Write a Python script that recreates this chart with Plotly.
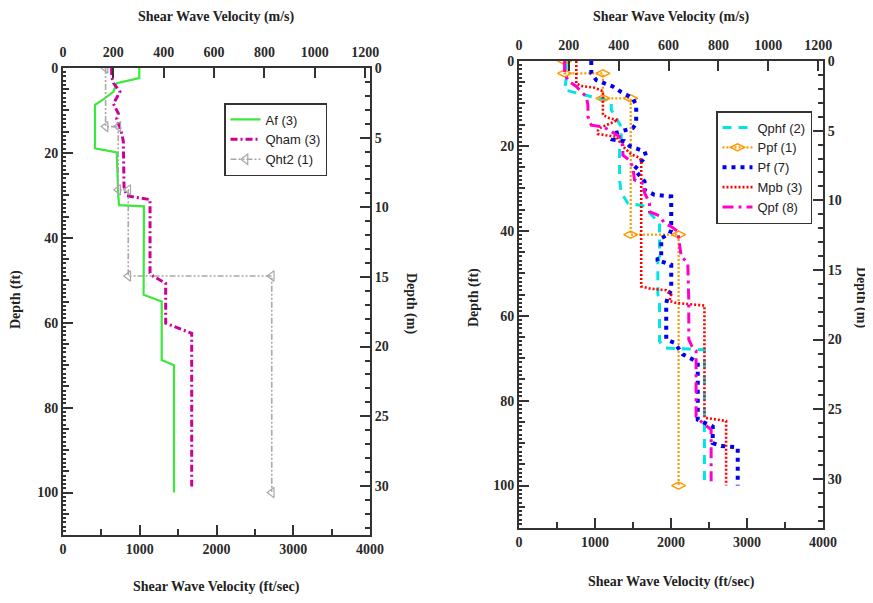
import plotly.graph_objects as go

W, H = 873, 603
OFF = 8          # default page margin of the html body
PW, PH = W - OFF, H - OFF

# ---------------- data (velocity in ft/sec, depth in ft) ----------------
af_v = [994, 994, 700, 656, 525, 417, 417, 525, 700, 720, 730, 1055, 1050, 1286, 1286, 1446, 1446]
af_d = [0, 2.4, 3.6, 5.6, 7.4, 8.7, 18.9, 19.3, 19.9, 29.9, 32.3, 32.6, 53.4, 55, 68.8, 70, 100]

qham_v = [634, 634, 660, 742, 700, 656, 721, 700, 765, 786, 795, 830, 1134, 1134, 1180, 1338, 1338, 1524, 1677, 1677]
qham_d = [0, 2.2, 3.6, 5.6, 7, 8.4, 10.7, 12, 15.4, 17.3, 28, 30.1, 31, 48.3, 49.1, 50.7, 60.1, 61.5, 62.5, 98.6]

qht2_v = [555, 555, 720, 720, 850, 850, 2720, 2720]
qht2_d = [0, 13.8, 13.8, 28.7, 28.7, 49, 49, 100]

qphf_v = [622, 622, 600, 775, 995, 1214, 1214, 1280, 1345, 1345, 1323, 1323, 1345, 1432, 1629, 1849, 1849, 1827, 1827, 1849, 1849, 1915, 2440, 2440]
qphf_d = [0, 4.1, 6.8, 7.6, 8.6, 9.4, 11.5, 13.5, 15.5, 19, 20, 28, 31, 33.5, 34.1, 38.2, 46, 47, 55, 56, 66, 67.6, 68, 100]

ppf_v = [600, 600, 1104, 1104, 1470, 1470, 2100, 2100]
ppf_d = [0, 2.9, 2.9, 8.8, 8.8, 40.9, 40.9, 100]

pf_v = [951, 951, 1017, 1235, 1345, 1498, 1542, 1542, 1498, 1280, 1235, 1389, 1455, 1652, 1674, 1564, 1520,
        1564, 1652, 1652, 1783, 2003, 2003, 1980, 1871, 1871, 1805, 1937, 2003, 2003, 1958, 1937, 1937, 2046,
        2155, 2286, 2352, 2352, 2440, 2549, 2549, 2660, 2878, 2878]
pf_d = [0, 2.9, 4.5, 6, 7.3, 8.8, 10.4, 14.7, 15.8, 16.9, 18.5, 18.9, 20, 21.3, 22.4, 24.5, 25.5,
        26.5, 28.4, 30.4, 31.5, 31.9, 39.8, 40.8, 41.7, 46.4, 46.8, 47.6, 48, 53.9, 55.5, 57.1, 65.6, 66.4,
        69.1, 70.3, 71, 84.5, 85.3, 86.1, 90, 90.7, 91, 100]

mpb_v = [754, 754, 820, 995, 1104, 1104, 1192, 1301, 1214, 1083, 1039, 1039, 1148, 1280, 1323, 1389, 1477,
         1586, 1608, 1608, 1717, 1937, 2003, 1980, 2068, 2440, 2440, 2725, 2725]
mpb_d = [0, 5.3, 5.9, 6.3, 7.1, 12.7, 13.5, 13.9, 14.6, 15.6, 16.4, 17.2, 17.5, 17.8, 19, 20.5, 22,
         22.8, 23.5, 53.1, 53.6, 54, 55, 56.5, 57, 57.6, 84, 84.8, 100]

qpf_v = [600, 600, 644, 754, 885, 907, 907, 951, 1104, 1148, 1323, 1367, 1367, 1455, 1498, 1520, 1652, 1652,
         1717, 1717, 1849, 1915, 2003, 2090, 2134, 2221, 2234, 2234, 2286, 2330, 2330, 2418, 2528, 2528]
qpf_d = [0, 2.7, 4.6, 6, 8.4, 10.4, 13.1, 15.1, 15.5, 15.9, 17.8, 19.8, 22.2, 23.4, 25, 28, 29, 31,
         33.5, 35.5, 36.5, 38.2, 39, 40.2, 46, 47.6, 56.6, 65.6, 67.6, 68.3, 83.7, 85.3, 86.8, 99]

ms_ticks = [0, 200, 400, 600, 800, 1000, 1200]
fts_ticks = [0, 1000, 2000, 3000, 4000]
ft_ticks = [0, 20, 40, 60, 80, 100]
m_ticks = [0, 5, 10, 15, 20, 25, 30]

FT_MAX = 4000
D_MAX = 110
FT2M = 0.3048

# ---------------- layout geometry (window pixels) ----------------
def px_x(p):
    return (p - OFF) / PW

def px_y(p):
    return 1 - (p - OFF) / PH

L_X = (63, 370)
L_Y = (68, 535)
R_X = (519, 823)
R_Y = (61, 528)

AX = "#333333"
SERIF = "Liberation Serif"
SANS = "Liberation Sans"
tickfont = dict(family=SERIF, size=14, color="#2a2a2a", weight="bold")

fig = go.Figure()

def add(v, d, name, color, dash, width, xa, ya, legend, marker=None):
    kw = dict(mode="lines")
    if marker:
        kw["mode"] = "lines+markers"
        kw["marker"] = marker
    fig.add_trace(go.Scatter(x=v, y=d, name=name, xaxis=xa, yaxis=ya, legend=legend,
                             line=dict(color=color, dash=dash, width=width), **kw))

def dummy(xa, ya):
    fig.add_trace(go.Scatter(x=[0], y=[0], xaxis=xa, yaxis=ya, mode="markers",
                             marker=dict(opacity=0, size=1), showlegend=False, hoverinfo="skip"))

# left panel
add(af_v, af_d, "Af (3)", "#3ce83c", "solid", 2.2, "x", "y", "legend")
add(qham_v, qham_d, "Qham (3)", "#cc0099", "7px,3px,2px,3px", 3, "x", "y", "legend")
add(qht2_v, qht2_d, "Qht2 (1)", "#a8a8a8", "6px,2px,2px,2px,2px,2px", 1.6, "x", "y", "legend",
    marker=dict(symbol="triangle-left-open", size=9, color="#a8a8a8", line=dict(width=1.2)))

# right panel
add(qphf_v, qphf_d, "Qphf (2)", "#00e5e5", "9px,7px", 3, "x3", "y4", "legend2")
add(ppf_v, ppf_d, "Ppf (1)", "#ff9900", "2px,2px", 2.2, "x3", "y4", "legend2",
    marker=dict(symbol="diamond-wide-open", size=10, color="#ff9900", line=dict(width=1.5)))
add(pf_v, pf_d, "Pf (7)", "#0000ee", "4px,5px", 4, "x3", "y4", "legend2")
add(mpb_v, mpb_d, "Mpb (3)", "#ff0000", "2px,2px", 2.6, "x3", "y4", "legend2")
add(qpf_v, qpf_d, "Qpf (8)", "#ff00cc", "11px,5px,3px,5px", 3, "x3", "y4", "legend2")

for xa, ya in [("x2", "y"), ("x", "y2"), ("x", "y3"), ("x4", "y4"), ("x3", "y5"), ("x3", "y6")]:
    dummy(xa, ya)

def axes(xb, xt, yl, yr, y5, xdom, ydom, xname, yname):
    base = dict(showgrid=False, zeroline=False, linecolor=AX, linewidth=2, tickcolor=AX,
                tickwidth=2, ticks="inside", tickfont=tickfont, automargin=False)
    fig.update_layout(**{
        xb: dict(base, domain=[px_x(xdom[0]), px_x(xdom[1])], range=[0, FT_MAX], anchor=yname,
                 side="bottom", showline=True, tickvals=fts_ticks, ticklen=10,
                 minor=dict(dtick=500, ticklen=6, tickcolor=AX, tickwidth=2, ticks="inside")),
        xt: dict(base, overlaying=xname, anchor=yname, side="top", range=[0, FT_MAX * FT2M],
                 showline=True, tickvals=ms_ticks, ticklen=10, ticklabelstandoff=3),
        yl: dict(base, domain=[px_y(ydom[1]), px_y(ydom[0])], range=[D_MAX, 0], anchor=xname,
                 side="left", showline=True, tickvals=ft_ticks, ticklen=10, tickwidth=2,
                 minor=dict(dtick=1, ticklen=3, tickcolor=AX, tickwidth=1.5, ticks="inside")),
        yr: dict(base, overlaying=yname, anchor=xname, side="right", range=[D_MAX * FT2M, 0],
                 showline=True, tickvals=m_ticks, ticklen=10,
                 minor=dict(dtick=1, ticklen=5, tickcolor=AX, tickwidth=1.5, ticks="inside")),
        y5: dict(base, overlaying=yname, anchor=xname, side="left", range=[D_MAX, 0],
                 showline=False, dtick=5, ticklen=6, tickwidth=1.5, showticklabels=False),
    })

axes("xaxis", "xaxis2", "yaxis", "yaxis2", "yaxis3", L_X, L_Y, "x", "y")
axes("xaxis3", "xaxis4", "yaxis4", "yaxis5", "yaxis6", R_X, R_Y, "x3", "y4")

legfont = dict(family=SANS, size=13, color="#222222")
fig.update_layout(
    template="none",
    width=PW, height=PH,
    margin=dict(l=0, r=0, t=0, b=0),
    paper_bgcolor="white", plot_bgcolor="white",
    legend=dict(x=px_x(224), y=px_y(103), xanchor="left", yanchor="top", bgcolor="white",
                bordercolor="#333333", borderwidth=1.5, font=legfont, tracegroupgap=0,
                itemwidth=30),
    legend2=dict(x=px_x(716), y=px_y(111), xanchor="left", yanchor="top", bgcolor="white",
                 bordercolor="#333333", borderwidth=1.5, font=legfont,
                 tracegroupgap=0, itemwidth=30),
)

titlefont = dict(family=SERIF, size=14, color="#222222", weight="bold")

def ann(text, x, y, angle=0):
    fig.add_annotation(text=text, x=px_x(x), y=px_y(y), xref="paper", yref="paper",
                       showarrow=False, xanchor="center", yanchor="middle",
                       textangle=angle, font=titlefont)

ann("Shear Wave Velocity (m/s)", 216, 17)
ann("Shear Wave Velocity (ft/sec)", 216, 587)
ann("Depth (ft)", 16, 300, -90)
ann("Depth (m)", 411, 303, 90)

ann("Shear Wave Velocity (m/s)", 671, 17)
ann("Shear Wave Velocity (ft/sec)", 671, 582)
ann("Depth (ft)", 474, 297, -90)
ann("Depth (m)", 861, 297, 90)

fig.write_html("out.html")
